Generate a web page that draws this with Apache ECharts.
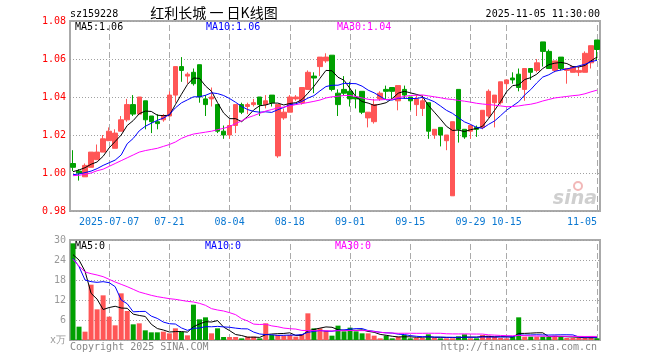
<!DOCTYPE html>
<html><head><meta charset="utf-8">
<script src="https://cdn.jsdelivr.net/npm/echarts@6/dist/echarts.min.js"></script>
<style>html,body{margin:0;padding:0;background:#fff}#c{width:660px;height:360px}</style>
</head><body><div id="c"></div>
<script>
// ---- data ----
const dates = [
 '2025-06-27','2025-06-30',
 '2025-07-01','2025-07-02','2025-07-03','2025-07-04','2025-07-07','2025-07-08','2025-07-09','2025-07-10','2025-07-11',
 '2025-07-14','2025-07-15','2025-07-16','2025-07-17','2025-07-18','2025-07-21','2025-07-22','2025-07-23','2025-07-24','2025-07-25',
 '2025-07-28','2025-07-29','2025-07-30','2025-07-31',
 '2025-08-01','2025-08-04','2025-08-05','2025-08-06','2025-08-07','2025-08-08','2025-08-11','2025-08-12','2025-08-13','2025-08-14','2025-08-15',
 '2025-08-18','2025-08-19','2025-08-20','2025-08-21','2025-08-22','2025-08-25','2025-08-26','2025-08-27','2025-08-28','2025-08-29',
 '2025-09-01','2025-09-02','2025-09-03','2025-09-04','2025-09-05','2025-09-08','2025-09-09','2025-09-10','2025-09-11','2025-09-12',
 '2025-09-15','2025-09-16','2025-09-17','2025-09-18','2025-09-19','2025-09-22','2025-09-23','2025-09-24','2025-09-25','2025-09-26',
 '2025-09-29','2025-09-30',
 '2025-10-09','2025-10-10','2025-10-13','2025-10-14','2025-10-15','2025-10-16','2025-10-17','2025-10-20','2025-10-21','2025-10-22',
 '2025-10-23','2025-10-24','2025-10-27','2025-10-28','2025-10-29','2025-10-30','2025-10-31',
 '2025-11-03','2025-11-04','2025-11-05'
];
const openP = [1.005,1.001,0.998,1.003,1.007,1.011,1.017,1.013,1.022,1.028,1.036,1.031,1.038,1.030,1.027,1.028,1.030,1.041,1.056,1.051,
 1.053,1.057,1.039,1.039,1.036,1.022,1.020,1.025,1.036,1.035,1.036,1.040,1.036,1.041,1.009,1.029,1.032,1.039,1.037,1.044,
 1.051,1.056,1.059,1.062,1.042,1.044,1.043,1.040,1.043,1.029,1.027,1.039,1.044,1.045,1.038,1.044,1.040,1.036,1.034,1.037,
 1.020,1.024,1.017,0.988,1.044,1.023,1.022,1.024,1.024,1.030,1.037,1.037,1.047,1.050,1.052,1.044,1.055,1.054,1.069,1.064,
 1.054,1.061,1.054,1.053,1.053,1.053,1.058,1.070];
const closeP = [1.003,1.000,1.004,1.011,1.011,1.018,1.022,1.021,1.028,1.036,1.031,1.040,1.028,1.027,1.026,1.030,1.041,1.056,1.054,1.052,
 1.047,1.040,1.036,1.040,1.022,1.020,1.025,1.036,1.032,1.036,1.037,1.036,1.038,1.037,1.036,1.032,1.040,1.040,1.045,1.053,
 1.050,1.061,1.061,1.044,1.036,1.042,1.039,1.039,1.032,1.032,1.036,1.042,1.043,1.043,1.046,1.041,1.038,1.039,1.038,1.022,
 1.023,1.020,1.020,1.027,1.023,1.019,1.025,1.023,1.033,1.043,1.041,1.048,1.049,1.049,1.045,1.055,1.053,1.058,1.064,1.055,
 1.059,1.055,1.055,1.056,1.054,1.063,1.067,1.065];
const lowP = [1.001,0.996,0.998,1.003,1.007,1.011,1.017,1.013,1.022,1.027,1.030,1.031,1.023,1.021,1.023,1.027,1.030,1.037,1.048,1.047,
 1.046,1.037,1.030,1.035,1.021,1.018,1.018,1.021,1.031,1.031,1.035,1.030,1.034,1.035,1.008,1.028,1.032,1.038,1.036,1.044,
 1.042,1.051,1.058,1.043,1.030,1.041,1.035,1.034,1.031,1.024,1.026,1.038,1.039,1.039,1.033,1.039,1.033,1.030,1.030,1.018,
 1.018,1.014,1.012,0.988,1.016,1.018,1.018,1.019,1.023,1.029,1.024,1.036,1.044,1.047,1.043,1.038,1.049,1.053,1.056,1.055,
 1.053,1.054,1.047,1.053,1.051,1.053,1.055,1.059];
const highP = [1.012,1.002,1.005,1.011,1.015,1.020,1.024,1.023,1.030,1.039,1.041,1.040,1.038,1.030,1.031,1.031,1.043,1.056,1.061,1.053,
 1.055,1.057,1.041,1.045,1.036,1.025,1.028,1.036,1.037,1.037,1.039,1.040,1.041,1.041,1.036,1.034,1.041,1.041,1.045,1.054,
 1.053,1.061,1.063,1.062,1.044,1.051,1.048,1.044,1.043,1.032,1.039,1.043,1.046,1.045,1.046,1.046,1.040,1.041,1.041,1.037,
 1.023,1.024,1.020,1.027,1.044,1.023,1.025,1.025,1.033,1.044,1.041,1.048,1.049,1.053,1.055,1.055,1.055,1.060,1.069,1.065,
 1.059,1.061,1.055,1.056,1.056,1.064,1.067,1.070];
const volume = [29.0,4.0,2.5,16.6,9.2,13.4,7.0,4.4,14.0,8.7,4.7,5.0,2.9,2.3,2.3,2.5,2.0,3.5,2.4,1.4,
 10.6,6.2,6.8,2.0,3.5,0.9,0.9,0.9,0.5,1.0,1.0,0.5,5.0,1.5,1.5,1.3,1.5,1.0,1.8,8.0,
 3.5,3.5,2.8,1.3,4.3,2.6,3.7,2.6,2.0,2.0,1.3,0.5,1.3,0.5,1.0,1.5,0.5,0.6,0.6,1.7,
 0.6,0.5,0.5,0.5,1.1,1.7,0.5,0.5,1.5,1.3,1.0,0.6,0.5,1.0,6.8,1.0,1.0,1.0,1.0,1.0,
 1.3,1.0,0.6,0.6,0.6,0.6,1.0,0.5];
// moving-average values before a full window exists
const priceMa5Head = [1.0007,1.0016,1.0028,1.0046];
const priceMa10Head = [0.9991,0.9995,1.0002,1.0010,1.0023,1.0040,1.0054,1.0068,1.0095];
const priceMa30Head = [0.9986,0.9988,0.9993,1.0000,1.0012,1.0020,1.0035,1.0050,1.0065,1.0080,1.0095,1.0110,1.0118,1.0124,1.0130,
 1.0140,1.0150,1.0163,1.0182,1.0195,1.0205,1.0210,1.0215,1.0220,1.0228,1.0235,1.0245,1.0260,1.0275];
const volMa5Head = [25.6,24.0,20.6,14.0];
const volMa10Head = [24.5,22.0,18.0,17.5,17.3,17.5,17.2,16.0,12.0];
const volMa30Head = [24.2,22.2,20.4,19.9,19.5,19.0,18.2,17.4,16.7,16.0,15.2,14.4,13.9,13.4,13.0,12.7,12.4,12.2,11.9,11.6,
 11.4,11.0,10.4,9.4,9.0,8.7,8.2,7.6,6.4];
const tickDates = ['2025-07-07','2025-07-21','2025-08-04','2025-08-18','2025-09-01','2025-09-15','2025-09-29','2025-10-15','2025-11-05'];
const priceTicks = {min:0.98, max:1.08, step:0.02};
const volTicks = {min:0, max:30, step:6};

// ---- build ----
function movingAvg(vals, n, head){
  return vals.map((v,i)=>{
    if(i < n-1) return head[i];
    let s=0; for(let k=i-n+1;k<=i;k++) s+=vals[k];
    return +(s/n).toFixed(4);
  });
}
const RED='#ff5656', GREEN='#00a000';
const MONO='DejaVu Sans Mono';
const candles = dates.map((d,i)=>[openP[i],closeP[i],lowP[i],highP[i]]);
const pMa5 = movingAvg(closeP,5,priceMa5Head), pMa10 = movingAvg(closeP,10,priceMa10Head), pMa30 = movingAvg(closeP,30,priceMa30Head);
const vMa5 = movingAvg(volume,5,volMa5Head), vMa10 = movingAvg(volume,10,volMa10Head), vMa30 = movingAvg(volume,30,volMa30Head);
const volData = volume.map((v,i)=>({value:v,itemStyle:{color: closeP[i]>=openP[i]?RED:GREEN}}));
const tickIdx = tickDates.map(d=>dates.indexOf(d));
const tickSet = new Set(tickIdx);
const vLines = {silent:true, symbol:'none', z:1, label:{show:false},
  lineStyle:{color:'#aaaaaa', type:[6,3], width:1},
  data: tickDates.map(d=>({xAxis:d}))};

const chart = echarts.init(document.getElementById('c'), null, {renderer:'canvas'});
const txt = (x,y,t,color,opt={}) => ({type:'text', x, y, silent:true, z:50,
  style:Object.assign({text:t, fill:color, font:`10px "${MONO}"`, textVerticalAlign:'middle', textAlign:'left'}, opt)});

chart.setOption({
  animation:false,
  backgroundColor:'#fff',
  grid:[
    {left:70, width:530, top:21, height:190, show:true, borderColor:'#aaaaaa', borderWidth:2},
    {left:70, width:530, top:240, height:100, show:true, borderColor:'#aaaaaa', borderWidth:2}
  ],
  xAxis:[
    {type:'category', gridIndex:0, data:dates, boundaryGap:true,
     axisLine:{show:false}, axisTick:{show:false}, splitLine:{show:false},
     axisLabel:{interval:(i)=>tickSet.has(i), formatter:(v)=> v===tickDates[0]? v : v.slice(5),
       color:'#0a78d2', fontFamily:MONO, fontSize:10, margin:6, alignMaxLabel:'right'}},
    {type:'category', gridIndex:1, data:dates, boundaryGap:true,
     axisLine:{show:false}, axisTick:{show:false}, axisLabel:{show:false}, splitLine:{show:false}}
  ],
  yAxis:[
    {type:'value', gridIndex:0, min:priceTicks.min, max:priceTicks.max, interval:priceTicks.step,
     axisLine:{show:false}, axisTick:{show:false},
     axisLabel:{color:'#ff0000', fontFamily:MONO, fontSize:10, margin:4, formatter:v=>v.toFixed(2)},
     splitLine:{show:true, lineStyle:{color:'#a0a0a0', type:[1,2], width:1}}},
    {type:'value', gridIndex:1, min:volTicks.min, max:volTicks.max, interval:volTicks.step,
     axisLine:{show:false}, axisTick:{show:false},
     axisLabel:{color:'#999999', fontFamily:MONO, fontSize:10, margin:4, formatter:v=> v===0?'x万':String(v)},
     splitLine:{show:true, lineStyle:{color:'#a0a0a0', type:[1,2], width:1}}}
  ],
  series:[
    {type:'line', xAxisIndex:0, yAxisIndex:0, data:[], z:1, markLine:vLines},
    {type:'line', xAxisIndex:1, yAxisIndex:1, data:[], z:1, markLine:vLines},
    {type:'candlestick', xAxisIndex:0, yAxisIndex:0, data:candles, barWidth:5,
     itemStyle:{color:RED, color0:GREEN, borderColor:RED, borderColor0:GREEN, borderWidth:1}},
    {type:'line', xAxisIndex:0, yAxisIndex:0, data:pMa5, showSymbol:false, symbol:'none', lineStyle:{color:'#000', width:1}},
    {type:'line', xAxisIndex:0, yAxisIndex:0, data:pMa10, showSymbol:false, symbol:'none', lineStyle:{color:'#0000ff', width:1}},
    {type:'line', xAxisIndex:0, yAxisIndex:0, data:pMa30, showSymbol:false, symbol:'none', lineStyle:{color:'#ff00ff', width:1}},
    {type:'bar', xAxisIndex:1, yAxisIndex:1, data:volData, barWidth:5},
    {type:'line', xAxisIndex:1, yAxisIndex:1, data:vMa5, showSymbol:false, symbol:'none', lineStyle:{color:'#000', width:1}},
    {type:'line', xAxisIndex:1, yAxisIndex:1, data:vMa10, showSymbol:false, symbol:'none', lineStyle:{color:'#0000ff', width:1}},
    {type:'line', xAxisIndex:1, yAxisIndex:1, data:vMa30, showSymbol:false, symbol:'none', lineStyle:{color:'#ff00ff', width:1}}
  ],
  graphic:[
    txt(70,14,'sz159228','#000'),
    txt(214,13,'红利长城 一 日K线图','#000',{font:'14px "Noto Sans CJK SC"', textAlign:'center'}),
    txt(600,14,'2025-11-05 11:30:00','#000',{textAlign:'right'}),
    txt(75,27,'MA5:'+pMa5[pMa5.length-1].toFixed(2),'#000'),
    txt(206,27,'MA10:'+pMa10[pMa10.length-1].toFixed(2),'#0000ff'),
    txt(337,27,'MA30:'+pMa30[pMa30.length-1].toFixed(2),'#ff00ff'),
    txt(75,246,'MA5:0','#000'),
    txt(205,246,'MA10:0','#0000ff'),
    txt(335,246,'MA30:0','#ff00ff'),
    txt(70,347,'Copyright 2025 SINA.COM','#888'),
    txt(597,347,'http://finance.sina.com.cn','#888',{textAlign:'right'}),
    {type:'circle', shape:{cx:578,cy:186,r:4}, silent:true, z:40, style:{fill:'none', stroke:'#f2b8b8', lineWidth:2}},
    txt(597,199,'sina','#cfcfcf',{textAlign:'right', font:'italic bold 19px "DejaVu Sans"'})
  ]
});
</script></body></html>
